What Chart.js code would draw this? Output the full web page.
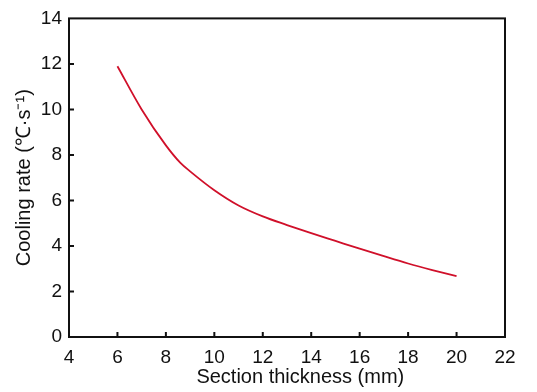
<!DOCTYPE html>
<html>
<head>
<meta charset="utf-8">
<style>
html,body{margin:0;padding:0;background:#fff;}
#wrap{width:537px;height:392px;}
</style>
</head>
<body>
<div id="wrap"><canvas id="calc" width="537" height="392"></canvas></div>
<script src="https://cdn.jsdelivr.net/npm/chart.js@4.4.0/dist/chart.umd.min.js"></script>
<script>
// values
var thickness = [6, 7, 8, 8.6, 9, 10, 11, 12, 13, 14, 15, 16, 17, 18, 19, 20];
var coolingRate = [11.9, 10.0, 8.42, 7.65, 7.28, 6.45, 5.78, 5.3, 4.92, 4.56, 4.22, 3.88, 3.55, 3.23, 2.94, 2.67];
var xTicks = [4, 6, 8, 10, 12, 14, 16, 18, 20, 22];
var yTicks = [0, 2, 4, 6, 8, 10, 12, 14];
var xTitle = 'Section thickness (mm)';
var yTitle = 'Cooling rate (\u2103\u00b7s\u207b\u00b9)';

var pts = [];
for (var i = 0; i < thickness.length; i++) {
	pts.push({x: thickness[i], y: coolingRate[i]});
}

var font = "'Liberation Sans', Arial, sans-serif";

// frame + inward ticks + x title (sits a bit right of centre in the original)
var frame = {
	id: 'frame',
	afterDraw: function(chart) {
		var c = chart.ctx, a = chart.chartArea;
		var xs = chart.scales.x, ys = chart.scales.y;
		c.save();
		c.strokeStyle = '#111';
		c.lineWidth = 2;
		c.strokeRect(a.left, a.top, a.right - a.left, a.bottom - a.top);
		c.beginPath();
		xTicks.forEach(function(v) {
			if (v == 4 || v == 22) return;
			var px = xs.getPixelForValue(v);
			c.moveTo(px, a.bottom);
			c.lineTo(px, a.bottom - 5);
		});
		yTicks.forEach(function(v) {
			if (v == 0 || v == 14) return;
			var py = ys.getPixelForValue(v);
			c.moveTo(a.left, py);
			c.lineTo(a.left + 5, py);
		});
		c.stroke();
		c.fillStyle = '#111';
		c.font = '20px ' + font;
		c.textAlign = 'center';
		c.textBaseline = 'middle';
		c.fillText(xTitle, xs.getPixelForValue(13.55), 377);
		c.restore();
	}
};

var ctx = document.getElementById('calc').getContext('2d');
new Chart(ctx, {
	type: 'line',
	data: {
		datasets: [{
			data: pts,
			borderColor: '#d0102a',
			borderWidth: 1.8,
			pointRadius: 0,
			fill: false,
			cubicInterpolationMode: 'monotone'
		}]
	},
	options: {
		responsive: false,
		animation: false,
		layout: {padding: {left: 0, top: 16, right: 32, bottom: 0}},
		plugins: {legend: {display: false}, tooltip: {enabled: false}},
		scales: {
			x: {
				type: 'linear', min: 4, max: 22,
				afterBuildTicks: function(s) { s.ticks = xTicks.map(function(v) { return {value: v}; }); },
				afterFit: function(s) { s.height = 55; },
				grid: {display: false, drawTicks: false},
				border: {display: false},
				ticks: {color: '#111', padding: 9, maxRotation: 0, font: {family: font, size: 19}},
				title: {display: false}
			},
			y: {
				type: 'linear', min: 0, max: 14,
				afterBuildTicks: function(s) { s.ticks = yTicks.map(function(v) { return {value: v}; }); },
				afterFit: function(s) { s.width = 69; },
				grid: {display: false, drawTicks: false},
				border: {display: false},
				ticks: {color: '#111', padding: 7, font: {family: font, size: 19}},
				title: {display: true, text: yTitle, color: '#111', padding: {top: 12, bottom: 0}, font: {family: font, size: 20}}
			}
		}
	},
	plugins: [frame]
});
</script>
</body>
</html>
